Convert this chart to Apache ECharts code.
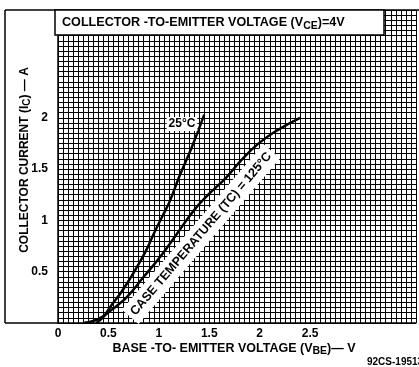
<!DOCTYPE html>
<html><head><meta charset="utf-8">
<script src="https://cdn.jsdelivr.net/npm/echarts@6/dist/echarts.min.js"></script>
<style>html,body{margin:0;padding:0;background:#fff}#c{width:419px;height:367px}</style>
</head><body><div id="c"></div>
<script>
// Data
const vbe25 = [0.38,0.45,0.50,0.55,0.62,0.70,0.78,0.87,0.95,1.03,1.11,1.20,1.33,1.45];
const ic25  = [0.00,0.06,0.13,0.20,0.29,0.41,0.54,0.70,0.87,1.03,1.19,1.42,1.72,2.03];
const vbe125 = [0.25,0.35,0.44,0.52,0.60,0.69,0.85,1.01,1.18,1.35,1.50,1.67,1.83,1.99,2.16,2.40];
const ic125  = [0.00,0.02,0.06,0.12,0.18,0.26,0.45,0.64,0.87,1.10,1.26,1.42,1.60,1.75,1.87,2.00];
const xTickLabels = ['0','0.5','1','1.5','2','2.5'];
const yTickLabels = ['0.5','1','1.5','2'];
const curveNames = ['25°C','125°C'];

const FONT = 'Liberation Sans';
function lbl(list){
  return function(v){
    const s = String(Math.round(v*100)/100);
    return list.indexOf(s) >= 0 ? s : '';
  };
}
const chart = echarts.init(document.getElementById('c'), null, {renderer:'canvas'});
const lineStyle = {color:'#000', width:2.5};
chart.setOption({
  animation:false,
  backgroundColor:'#fff',
  grid:{left:58, right:0, top:10, bottom:44},
  xAxis:{
    type:'value', min:0, max:3.55, interval:0.05,
    axisLine:{show:true, lineStyle:{color:'#000', width:1.5}},
    axisTick:{show:false},
    axisLabel:{interval:0, formatter:lbl(xTickLabels), color:'#000', fontFamily:FONT, fontWeight:'bold', fontSize:12, margin:5},
    splitLine:{show:true, lineStyle:{color:'#000', width:1}}
  },
  yAxis:{
    type:'value', min:0, max:3.05, interval:0.05,
    axisLine:{show:true, lineStyle:{color:'#000', width:1.5}},
    axisTick:{show:false},
    axisLabel:{interval:0, formatter:lbl(yTickLabels), color:'#000', fontFamily:FONT, fontWeight:'bold', fontSize:12, margin:10},
    splitLine:{show:true, lineStyle:{color:'#000', width:1}}
  },
  series:[
    {name:curveNames[0], type:'line', smooth:true, showSymbol:false, lineStyle:lineStyle, z:5,
     data:vbe25.map((v,i)=>[v,ic25[i]])},
    {name:curveNames[1], type:'line', smooth:true, showSymbol:false, lineStyle:lineStyle, z:5,
     data:vbe125.map((v,i)=>[v,ic125[i]])}
  ],
  graphic:[
    // outer frame
    {type:'line', z:50, shape:{x1:5,y1:10,x2:5,y2:323}, style:{stroke:'#000', lineWidth:1.5}},
    {type:'line', z:50, shape:{x1:5,y1:10,x2:58,y2:10}, style:{stroke:'#000', lineWidth:1.5}},
    {type:'line', z:50, shape:{x1:5,y1:323,x2:58,y2:323}, style:{stroke:'#000', lineWidth:1.5}},
    {type:'line', z:50, shape:{x1:58,y1:10,x2:419,y2:10}, style:{stroke:'#000', lineWidth:1.5}},
    // title box
    {type:'rect', z:60, shape:{x:55,y:10,width:329,height:25}, style:{fill:'#fff', stroke:'#000', lineWidth:1.5}},
    {type:'text', z:61, x:62, y:23, style:{
      text:'{a|COLLECTOR -TO-EMITTER VOLTAGE (V}{s|CE}{a|)=4V}', verticalAlign:'middle',
      rich:{a:{fontFamily:FONT, fontWeight:'bold', fontSize:12.6, fill:'#000'},
            s:{fontFamily:FONT, fontWeight:'bold', fontSize:10.5, fill:'#000', padding:[6,0,0,0]}}}},
    // y axis title
    {type:'text', z:61, x:25, y:160, rotation:Math.PI/2, style:{
      text:'{a|COLLECTOR CURRENT (I}{s|C}{a|) — A}', align:'center', verticalAlign:'middle',
      rich:{a:{fontFamily:FONT, fontWeight:'bold', fontSize:12, fill:'#000'},
            s:{fontFamily:FONT, fontWeight:'bold', fontSize:10, fill:'#000', padding:[5,0,0,0]}}}},
    // x axis title
    {type:'text', z:61, x:234, y:349, style:{
      text:'{a|BASE -TO- EMITTER VOLTAGE (V}{s|BE}{a|)— V}', align:'center', verticalAlign:'middle',
      rich:{a:{fontFamily:FONT, fontWeight:'bold', fontSize:12.5, fill:'#000'},
            s:{fontFamily:FONT, fontWeight:'bold', fontSize:10.5, fill:'#000', padding:[5,0,0,0]}}}},
    {type:'text', z:61, x:367, y:362, style:{text:'92CS-19513', fontFamily:FONT, fontWeight:'bold', fontSize:10, fill:'#000', verticalAlign:'middle'}},
    // curve labels
    {type:'text', z:61, x:182, y:124, style:{text:'25°C', fontFamily:FONT, fontWeight:'bold', fontSize:12, fill:'#000',
      align:'center', verticalAlign:'middle', backgroundColor:'#fff', padding:[1,2]}},
    {type:'text', z:61, x:201, y:234, rotation:49.5*Math.PI/180, style:{text:'CASE TEMPERATURE (TC) = 125°C', fontFamily:FONT, fontWeight:'bold', fontSize:12.5, fill:'#000',
      align:'center', verticalAlign:'middle', backgroundColor:'#fff', padding:[2,4,7,4]}}
  ]
});
</script></body></html>
